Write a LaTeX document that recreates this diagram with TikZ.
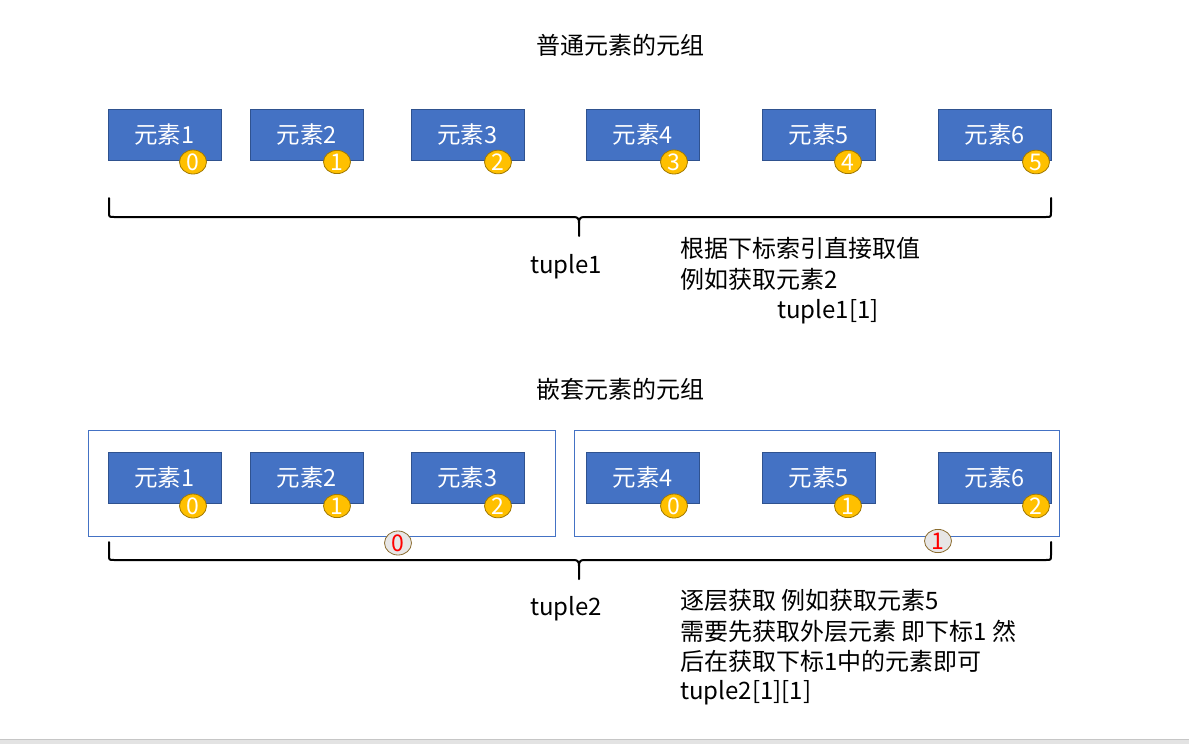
\documentclass[tikz,border=0pt]{standalone}
\usepackage{fontspec}
\setmainfont{Noto Sans CJK SC}
\usetikzlibrary{shapes.geometric}
\definecolor{boxblue}{HTML}{4472C4}
\definecolor{boxedge}{HTML}{2F528F}
\definecolor{ovalfill}{HTML}{FFC000}
\definecolor{ovaledge}{HTML}{A07800}
\definecolor{grayfill}{HTML}{E7E6E6}
\definecolor{grayedge}{HTML}{8B6C2F}
\tikzset{
  elem/.style={draw=boxedge, line width=1pt, fill=boxblue, minimum width=113pt, minimum height=51pt, inner sep=0pt, text=white, font=\fontsize{23.5}{26}\selectfont},
  idx/.style={ellipse, draw=ovaledge, line width=0.8pt, fill=ovalfill, minimum width=27pt, minimum height=20pt, inner sep=0pt, text=white, font=\fontsize{23}{23}\selectfont},
  gidx/.style={ellipse, draw=grayedge, line width=0.8pt, fill=grayfill, minimum width=27pt, minimum height=20pt, inner sep=0pt, text=red, font=\fontsize{23}{23}\selectfont},
  outer/.style={draw=boxblue, line width=0.8pt},
  txt/.style={font=\fontsize{24}{28}\selectfont, inner sep=0pt, anchor=base west},
  ttl/.style={font=\fontsize{24}{28}\selectfont, inner sep=0pt, anchor=base},
  bracepath/.style={line width=2pt, line cap=round, line join=round}
}
\begin{document}
\begin{tikzpicture}[x=1pt,y=-1pt]
\useasboundingbox (0,0) rectangle (1189,744);
\fill[white] (0,0) rectangle (1189,744);
% bottom strip
\fill[gray!22] (0,739) rectangle (1189,744);
\draw[gray!45, line width=1pt] (0,739.5) -- (1189,739.5);

% titles
\node[ttl] (t1) at (620,54) {普通元素的元组};
\node[ttl] (t2) at (620,398) {嵌套元素的元组};

% row 1
\node[elem] (a1) at (164.5,134.5) {元素1};
\node[elem] (a2) at (307,134.5) {元素2};
\node[elem] (a3) at (467.5,134.5) {元素3};
\node[elem] (a4) at (643,134.5) {元素4};
\node[elem] (a5) at (819,134.5) {元素5};
\node[elem] (a6) at (995,134.5) {元素6};
\node[idx] (i1) at (193,162) {0};
\node[idx] (i2) at (337,162) {1};
\node[idx] (i3) at (498,162) {2};
\node[idx] (i4) at (674,162) {3};
\node[idx] (i5) at (848,162) {4};
\node[idx] (i6) at (1036,162) {5};

% brace 1
\draw[bracepath] (109,198) -- (109,212) .. controls (109,217) .. (114,217)
  -- (574,217) .. controls (578,217) and (579,219) .. (579,223) -- (579,236);
\draw[bracepath] (1051,198) -- (1051,212) .. controls (1051,217) .. (1046,217)
  -- (584,217) .. controls (580,217) and (579,219) .. (579,223);
\node[ttl] (l1) at (566,273) {tuple1};
\node[txt] (d1) at (680,257) {根据下标索引直接取值};
\node[txt] (d2) at (680,288) {例如获取元素2};
\node[txt] (d3) at (777,318) {tuple1[1]};

% row 2 outer boxes
\draw[outer] (88,430) rectangle (555,536);
\draw[outer] (574,430) rectangle (1059,536);
\node[elem] (b1) at (164.5,477.5) {元素1};
\node[elem] (b2) at (307,477.5) {元素2};
\node[elem] (b3) at (467.5,477.5) {元素3};
\node[elem] (b4) at (643,477.5) {元素4};
\node[elem] (b5) at (819,477.5) {元素5};
\node[elem] (b6) at (995,477.5) {元素6};
\node[idx] (j1) at (193,506) {0};
\node[idx] (j2) at (337,506) {1};
\node[idx] (j3) at (498,506) {2};
\node[idx] (j4) at (674,506) {0};
\node[idx] (j5) at (848,506) {1};
\node[idx] (j6) at (1036,506) {2};

% brace 2
\draw[bracepath] (109,542) -- (109,555) .. controls (109,560) .. (114,560)
  -- (574,560) .. controls (578,560) and (579,562) .. (579,566) -- (579,579);
\draw[bracepath] (1051,542) -- (1051,555) .. controls (1051,560) .. (1046,560)
  -- (584,560) .. controls (580,560) and (579,562) .. (579,566);
\node[gidx] (g0) at (398,543) {0};
\node[gidx] (g1) at (938,541) {1};
\node[ttl] (l2) at (566,615) {tuple2};
\node[txt] (e1) at (680,609) {逐层获取 例如获取元素5};
\node[txt] (e2) at (680,640) {需要先获取外层元素 即下标1 然};
\node[txt] (e3) at (680,670) {后在获取下标1中的元素即可};
\node[txt] (e4) at (680,699) {tuple2[1][1]};
\end{tikzpicture}
\end{document}
